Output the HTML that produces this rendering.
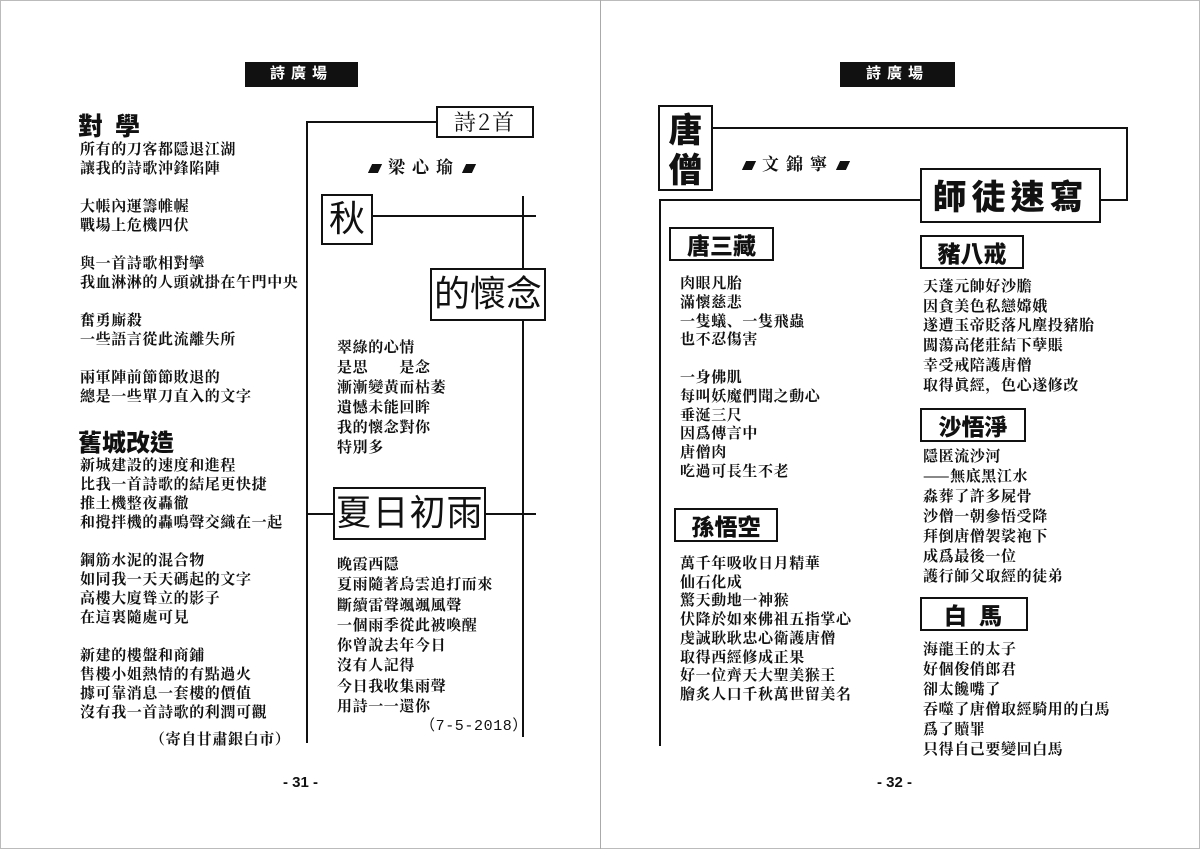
<!DOCTYPE html>
<html><head><meta charset="utf-8">
<style>
body{margin:0;width:1200px;height:849px;background:#fff;position:relative;overflow:hidden;font-family:"Liberation Sans","Noto Sans CJK TC",sans-serif;color:#111}
.a{position:absolute}
.t{position:absolute;font-size:15px;line-height:19px;white-space:nowrap;letter-spacing:0.6px;font-family:"Noto Serif CJK SC","Noto Sans CJK TC",serif;font-weight:700}
.h{position:absolute;background:#111;color:#fff;font-weight:bold;font-size:15px;text-align:center;line-height:24px;letter-spacing:6px}
.box{position:absolute;border:2px solid #111;background:#fff;box-sizing:border-box;text-align:center;white-space:nowrap}
.ln{position:absolute;background:#111}
.bt{font-family:"WenQuanYi Zen Hei","Noto Sans CJK TC",sans-serif;font-weight:900}
.st{position:absolute;font-size:17px;font-weight:bold;font-family:"Noto Serif CJK SC",serif;letter-spacing:7px;white-space:nowrap}
.sq{display:inline-block;width:10px;height:9px;background:#111;transform:skewX(-25deg);margin:0 8px 0 4px}
</style></head><body>
<div class="a" style="left:0;top:0;width:1198px;height:847px;border:1px solid #bbb"></div>
<div class="a" style="left:600px;top:0;width:1px;height:849px;background:#aaa"></div>

<!-- LEFT PAGE -->
<div class="h" style="left:245px;top:62px;width:113px;height:25px">詩廣場</div>
<div class="a bt" style="left:78px;top:112px;font-size:25px;line-height:26px;letter-spacing:12px;font-weight:900">對學</div>
<div class="t" style="left:80px;top:139px">所有的刀客都隱退江湖<br>讓我的詩歌沖鋒陷陣<br><br>大帳內運籌帷幄<br>戰場上危機四伏<br><br>與一首詩歌相對攣<br>我血淋淋的人頭就掛在午門中央<br><br>奮勇廝殺<br>一些語言從此流離失所<br><br>兩軍陣前節節敗退的<br>總是一些單刀直入的文字</div>
<div class="a bt" style="left:78px;top:428px;font-size:24px;line-height:25px;letter-spacing:0px;font-weight:900">舊城改造</div>
<div class="t" style="left:80px;top:455px">新城建設的速度和進程<br>比我一首詩歌的結尾更快捷<br>推土機整夜轟徹<br>和攪拌機的轟鳴聲交織在一起<br><br>鋼筋水泥的混合物<br>如同我一天天碼起的文字<br>高樓大廈聳立的影子<br>在這裏隨處可見<br><br>新建的樓盤和商鋪<br>售樓小姐熱情的有點過火<br>據可靠消息一套樓的價值<br>沒有我一首詩歌的利潤可觀</div>
<div class="t" style="left:150px;top:729px">（寄自甘肅銀白市）</div>
<div class="a" style="left:283px;top:774px;font-size:15px;font-weight:bold">- 31 -</div>

<div class="ln" style="left:306px;top:121px;width:2px;height:622px"></div>
<div class="ln" style="left:306px;top:121px;width:132px;height:2px"></div>
<div class="box" style="left:436px;top:106px;width:98px;height:32px;font-size:22px;line-height:28px;font-family:'Noto Serif CJK SC',serif;letter-spacing:2px">詩2首</div>
<div class="st" style="left:366px;top:153px"><span class="sq"></span>梁心瑜<span class="sq"></span></div>
<div class="ln" style="left:522px;top:196px;width:2px;height:541px"></div>
<div class="ln" style="left:372px;top:215px;width:164px;height:2px"></div>
<div class="box" style="left:321px;top:194px;width:52px;height:51px;font-size:36px;line-height:46px">秋</div>
<div class="box" style="left:430px;top:268px;width:116px;height:53px;font-size:36px;line-height:48px">的懷念</div>
<div class="t" style="left:337px;top:337px;line-height:20px">翠綠的心情<br>是思　　是念<br>漸漸變黃而枯萎<br>遺憾未能回眸<br>我的懷念對你<br>特別多</div>
<div class="ln" style="left:306px;top:513px;width:230px;height:2px"></div>
<div class="box" style="left:333px;top:487px;width:153px;height:53px;font-size:36px;line-height:48px;letter-spacing:1px">夏日初雨</div>
<div class="t" style="left:337px;top:554px;line-height:20.3px">晚霞西隱<br>夏雨隨著烏雲追打而來<br>斷續雷聲颯颯風聲<br>一個雨季從此被喚醒<br>你曾說去年今日<br>沒有人記得<br>今日我收集雨聲<br>用詩一一還你</div>
<div class="t" style="left:420px;top:717px;font-family:'Liberation Mono','Noto Sans CJK TC',monospace;font-weight:normal;font-size:15px">（7-5-2018）</div>

<!-- RIGHT PAGE -->
<div class="h" style="left:840px;top:62px;width:115px;height:25px">詩廣場</div>
<div class="ln" style="left:712px;top:127px;width:416px;height:2px"></div>
<div class="ln" style="left:1126px;top:127px;width:2px;height:74px"></div>
<div class="ln" style="left:1098px;top:199px;width:30px;height:2px"></div>
<div class="box bt" style="left:658px;top:105px;width:55px;height:86px;font-size:34px;line-height:40px;padding-top:1px">唐<br>僧</div>
<div class="st" style="left:740px;top:150px"><span class="sq"></span>文錦寧<span class="sq"></span></div>
<div class="ln" style="left:659px;top:199px;width:263px;height:2px"></div>
<div class="ln" style="left:659px;top:199px;width:2px;height:547px"></div>
<div class="box bt" style="left:920px;top:168px;width:181px;height:55px;font-size:34px;line-height:50px;letter-spacing:5px">師徒速寫</div>

<div class="box bt" style="left:669px;top:227px;width:105px;height:34px;font-size:23px;line-height:30px">唐三藏</div>
<div class="t" style="left:680px;top:274px;line-height:18.8px">肉眼凡胎<br>滿懷慈悲<br>一隻蟻、一隻飛蟲<br>也不忍傷害<br><br>一身佛肌<br>每叫妖魔們聞之動心<br>垂涎三尺<br>因爲傳言中<br>唐僧肉<br>吃過可長生不老</div>
<div class="box bt" style="left:674px;top:508px;width:104px;height:34px;font-size:23px;line-height:30px">孫悟空</div>
<div class="t" style="left:680px;top:554px;line-height:18.7px">萬千年吸收日月精華<br>仙石化成<br>驚天動地一神猴<br>伏降於如來佛祖五指掌心<br>虔誠耿耿忠心衛護唐僧<br>取得西經修成正果<br>好一位齊天大聖美猴王<br>膾炙人口千秋萬世留美名</div>

<div class="box bt" style="left:920px;top:235px;width:104px;height:34px;font-size:23px;line-height:30px">豬八戒</div>
<div class="t" style="left:923px;top:276px;line-height:19.7px">天蓬元帥好沙膽<br>因貪美色私戀嫦娥<br>遂遭玉帝貶落凡塵投豬胎<br>闖蕩高佬莊結下孽賬<br>幸受戒陪護唐僧<br>取得眞經，色心遂修改</div>
<div class="box bt" style="left:920px;top:408px;width:106px;height:34px;font-size:23px;line-height:30px">沙悟淨</div>
<div class="t" style="left:923px;top:446px;line-height:20px">隱匿流沙河<br>——無底黑江水<br>淼葬了許多屍骨<br>沙僧一朝參悟受降<br>拜倒唐僧袈裟袍下<br>成爲最後一位<br>護行師父取經的徒弟</div>
<div class="box bt" style="left:920px;top:597px;width:108px;height:34px;font-size:23px;line-height:30px;letter-spacing:12px;padding-left:10px">白馬</div>
<div class="t" style="left:923px;top:639px;line-height:20px">海龍王的太子<br>好個俊俏郎君<br>卻太饞嘴了<br>吞噬了唐僧取經騎用的白馬<br>爲了贖罪<br>只得自己要變回白馬</div>
<div class="a" style="left:877px;top:774px;font-size:15px;font-weight:bold">- 32 -</div>
</body></html>
